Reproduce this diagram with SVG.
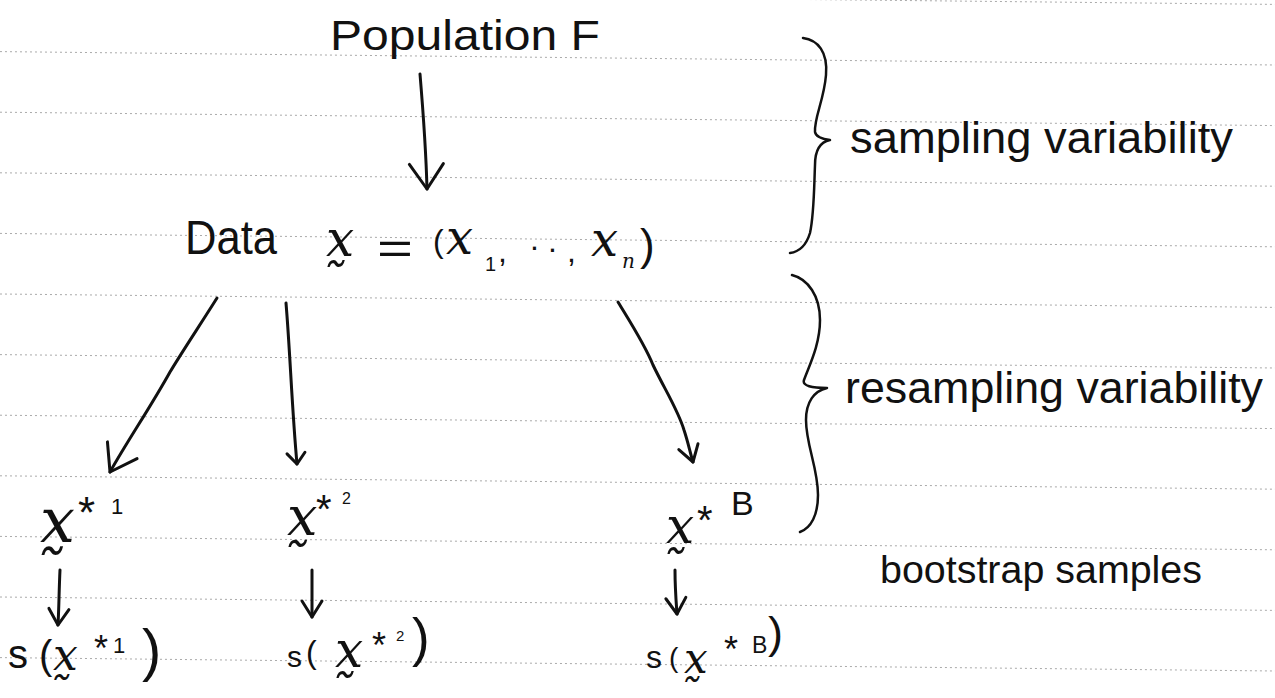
<svg xmlns="http://www.w3.org/2000/svg" width="1275" height="698" viewBox="0 0 1275 698">
  <style>
    .rule { stroke:#8e8e8e; stroke-width:1; stroke-dasharray:2 3; opacity:0.75; }
    .w { fill:#111; font-family:"Liberation Sans", Arial, sans-serif; }
    .m { fill:#111; font-family:"DejaVu Serif", "Liberation Serif", serif; font-style:italic; }
    .p { fill:#111; font-family:"Liberation Sans", Arial, sans-serif; font-style:normal; }
    .ink { fill:none; stroke:#111; stroke-width:3; stroke-linecap:round; stroke-linejoin:round; }
    .brace { fill:none; stroke:#111; stroke-width:2.5; stroke-linecap:round; stroke-linejoin:round; }
  </style>
  <defs>
    <marker id="headL" viewBox="-30 -20 32 40" refX="0" refY="0" markerWidth="32" markerHeight="40" markerUnits="userSpaceOnUse" orient="auto" style="overflow:visible">
      <path d="M-25,-17 L0,0 L-25,17" fill="none" stroke="#111" stroke-width="3" stroke-linecap="round" stroke-linejoin="round"/>
    </marker>
    <marker id="headM" viewBox="-20 -12 22 24" refX="0" refY="0" markerWidth="22" markerHeight="24" markerUnits="userSpaceOnUse" orient="auto" style="overflow:visible">
      <path d="M-16,-10 L0,0 L-16,10" fill="none" stroke="#111" stroke-width="3" stroke-linecap="round" stroke-linejoin="round"/>
    </marker>
    <marker id="headS" viewBox="-14 -10 16 20" refX="0" refY="0" markerWidth="16" markerHeight="20" markerUnits="userSpaceOnUse" orient="auto" style="overflow:visible">
      <path d="M-11,-9 L0,0 L-11,9" fill="none" stroke="#111" stroke-width="3" stroke-linecap="round" stroke-linejoin="round"/>
    </marker>
  </defs>

  <rect width="1275" height="698" fill="#ffffff"/>

  <g id="paper-rules">
    <line class="rule" x1="0" y1="-9" x2="1275" y2="4.4"/>
    <line class="rule" x1="0" y1="51.6" x2="1275" y2="65"/>
    <line class="rule" x1="0" y1="112.2" x2="1275" y2="125.6"/>
    <line class="rule" x1="0" y1="172.8" x2="1275" y2="186.2"/>
    <line class="rule" x1="0" y1="233.4" x2="1275" y2="246.8"/>
    <line class="rule" x1="0" y1="294" x2="1275" y2="307.4"/>
    <line class="rule" x1="0" y1="354.6" x2="1275" y2="368"/>
    <line class="rule" x1="0" y1="415.2" x2="1275" y2="428.6"/>
    <line class="rule" x1="0" y1="475.8" x2="1275" y2="489.2"/>
    <line class="rule" x1="0" y1="536.4" x2="1275" y2="549.8"/>
    <line class="rule" x1="0" y1="597" x2="1275" y2="610.4"/>
    <line class="rule" x1="0" y1="657.6" x2="1275" y2="671"/>
  </g>

  <g id="population">
    <text class="w" x="330" y="50" font-size="42" textLength="270" lengthAdjust="spacingAndGlyphs">Population F</text>
  </g>

  <g id="data">
    <text class="w" x="185" y="254" font-size="48" textLength="92" lengthAdjust="spacingAndGlyphs">Data</text>
    <text class="m" x="326" y="256" font-size="50">x&#x330;</text>
    <text class="p" x="377" y="264" font-size="44" textLength="36" lengthAdjust="spacingAndGlyphs">=</text>
    <text class="p" font-size="32"><tspan x="433" y="252">(</tspan><tspan class="m" x="446" y="254" font-size="48">x</tspan><tspan x="485" y="271" font-size="20">1</tspan><tspan x="498" y="262">,</tspan><tspan x="530" y="250">.</tspan><tspan x="548" y="252">.</tspan><tspan x="567" y="262">,</tspan><tspan class="m" x="591" y="256" font-size="48">x</tspan><tspan class="m" x="622" y="268" font-size="20">n</tspan><tspan x="640" y="260" font-size="44">)</tspan></text>
  </g>

  <g id="brace-sampling">
    <path class="brace" d="M803,38 C818,40 828,52 826,75 C824,100 814,118 815,132 C816,137 822,139 830,140 C820,142 815,150 815,165 C814,190 814,215 810,233 C806,246 798,252 790,253"/>
    <text class="w" x="850" y="153" font-size="44" textLength="383" lengthAdjust="spacingAndGlyphs">sampling variability</text>
  </g>

  <g id="brace-resampling">
    <path class="brace" d="M792,275 C808,279 820,296 820,320 C820,345 809,366 804,380 C802,386 812,388 827,388 C814,391 806,402 806,420 C806,445 818,468 818,495 C818,515 811,528 800,532"/>
    <text class="w" x="845" y="403" font-size="44" textLength="418" lengthAdjust="spacingAndGlyphs">resampling variability</text>
  </g>

  <g id="bootstrap-label">
    <text class="w" x="880" y="583" font-size="38" textLength="322" lengthAdjust="spacingAndGlyphs">bootstrap samples</text>
  </g>

  <g id="sample-1">
    <text class="m" font-size="62"><tspan x="40" y="542">x&#x330;</tspan><tspan class="p" x="78" y="528" font-size="44">*</tspan><tspan class="p" x="111" y="514" font-size="22">1</tspan></text>
  </g>
  <g id="sample-2">
    <text class="m" font-size="54"><tspan x="287" y="535">x&#x330;</tspan><tspan class="p" x="316" y="523" font-size="40">*</tspan><tspan class="p" x="342" y="504" font-size="16">2</tspan></text>
  </g>
  <g id="sample-B">
    <text class="m" font-size="50"><tspan x="666" y="543">x&#x330;</tspan><tspan class="p" x="697" y="534" font-size="40">*</tspan><tspan class="p" x="731" y="515" font-size="34">B</tspan></text>
  </g>

  <g id="stat-1">
    <text class="w" font-size="40"><tspan x="8" y="668">s</tspan><tspan x="39" y="669">(</tspan><tspan class="m" x="53" y="670" font-size="44">x&#x330;</tspan><tspan x="94" y="661" font-size="36">*</tspan><tspan x="113" y="653" font-size="22">1</tspan><tspan x="142" y="670" font-size="58">)</tspan></text>
  </g>
  <g id="stat-2">
    <text class="w" font-size="30"><tspan x="287" y="667">s</tspan><tspan x="306" y="663" font-size="32">(</tspan><tspan class="m" x="335" y="667" font-size="50">x&#x330;</tspan><tspan x="372" y="658" font-size="36">*</tspan><tspan x="396" y="641" font-size="15">2</tspan><tspan x="412" y="656" font-size="53">)</tspan></text>
  </g>
  <g id="stat-B">
    <text class="w" font-size="32"><tspan x="646" y="668">s</tspan><tspan x="669" y="667" font-size="28">(</tspan><tspan class="m" x="684" y="673" font-size="42">x&#x330;</tspan><tspan x="724" y="662" font-size="36">*</tspan><tspan x="752" y="653" font-size="23">B</tspan><tspan x="768" y="648" font-size="45">)</tspan></text>
  </g>

  <g id="connectors">
    <path class="ink" d="M420,74 C423,110 426,150 427,189" marker-end="url(#headL)"/>
    <path class="ink" d="M217,298 C200,325 182,352 170,372 C150,408 128,440 110,472" marker-end="url(#headL)"/>
    <path class="ink" d="M286,303 C290,350 292,410 297,464" marker-end="url(#headS)"/>
    <path class="ink" d="M618,302 C632,325 645,345 653,365 C665,390 678,410 684,430 C688,442 690,452 693,462" marker-end="url(#headM)"/>
    <path class="ink" d="M60,570 C59,590 59,608 58,625" marker-end="url(#headM)"/>
    <path class="ink" d="M312,570 C312,590 312,603 312,617" marker-end="url(#headM)"/>
    <path class="ink" d="M675,570 C675,588 676,600 677,614" marker-end="url(#headM)"/>
  </g>
</svg>
